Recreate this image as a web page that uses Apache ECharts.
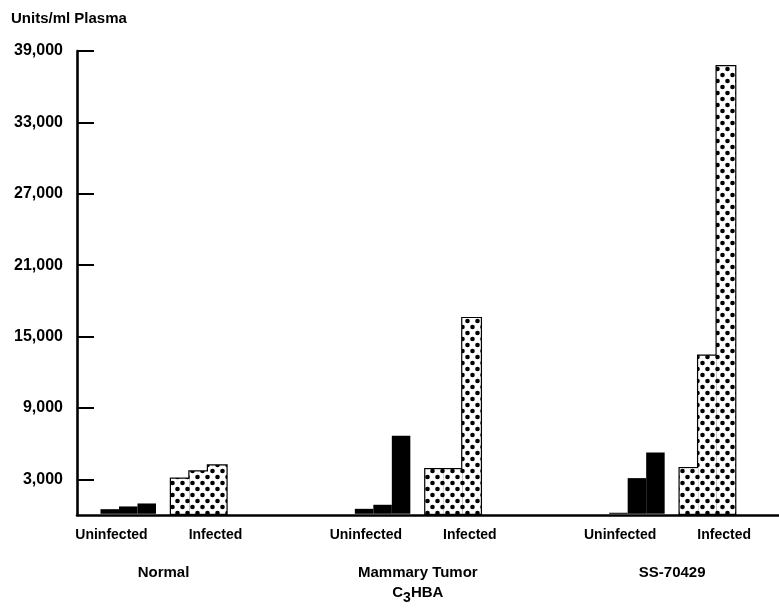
<!DOCTYPE html>
<html>
<head>
<meta charset="utf-8">
<script src="https://cdn.jsdelivr.net/npm/echarts@6/dist/echarts.min.js"></script>
<style>
html,body{margin:0;padding:0;background:#fff;}
#chart{width:779px;height:614px;}
</style>
</head>
<body>
<div id="chart"></div>
<script>
// ---- data ----
const groupNames = ['Normal', 'Mammary Tumor', 'SS-70429'];
const groupSubNames = ['', 'C3HBA', ''];
const conditionLabels = ['Uninfected', 'Infected'];
const uninfectedA = [590, 620, 290];
const uninfectedB = [820, 960, 3200];
const uninfectedC = [1070, 6760, 5360];
const infectedA = [3150, 3950, 4040];
const infectedB = [3760, 3950, 13490];
const infectedC = [4260, 16650, 37820];
const yTicks = [3000, 9000, 15000, 21000, 27000, 33000, 39000];
const yMax = 39000;

// ---- styles ----
const FONT = '"Liberation Sans", Arial, sans-serif';
function makeDots() {
  const c = document.createElement('canvas');
  c.width = 10; c.height = 12;
  const ctx = c.getContext('2d');
  ctx.fillStyle = '#fff'; ctx.fillRect(0, 0, 10, 12);
  ctx.fillStyle = '#000';
  [[2.5, 3], [7.5, 9]].forEach(([x, y]) => { ctx.beginPath(); ctx.arc(x, y, 2.3, 0, Math.PI * 2); ctx.fill(); });
  return c;
}
const dotFill = { image: makeDots(), repeat: 'repeat' };

const toPairs = arr => arr.map((v, i) => [i, v]);
const emptyPairs = groupNames.map((g, i) => [i, null]);

// bar geometry: visible pitch 18.5px, outline 2.4px
const PITCH = 18.5, EDGE = 2.4, GAP = 15;
const W = PITCH + EDGE;
const GAP_PCT = (-EDGE / W * 100) + '%';
const SPACER = GAP / (1 - EDGE / W);
const CLEAR = 'rgba(0,0,0,0)';

function seriesSet(axisIndex, outline) {
  const list = [];
  [uninfectedA, uninfectedB, uninfectedC].forEach(arr => list.push({
    type: 'bar', xAxisIndex: axisIndex, data: outline ? emptyPairs : toPairs(arr),
    barWidth: W, barGap: GAP_PCT, z: outline ? 1 : 2, silent: true,
    itemStyle: { color: '#000', borderColor: CLEAR, borderWidth: EDGE }
  }));
  list.push({ type: 'bar', xAxisIndex: axisIndex, data: emptyPairs, barWidth: SPACER, barGap: GAP_PCT, silent: true });
  [infectedA, infectedB, infectedC].forEach(arr => list.push({
    type: 'bar', xAxisIndex: axisIndex, data: toPairs(arr), barWidth: W, barGap: GAP_PCT,
    z: outline ? 1 : 2, silent: true,
    itemStyle: outline ? { color: '#000', borderWidth: 0 } : { color: dotFill, borderColor: CLEAR, borderWidth: EDGE }
  }));
  return list;
}

const xMin = -0.34, xMax = 2.42;
const chart = echarts.init(document.getElementById('chart'), null, { renderer: 'canvas' });
chart.setOption({
  animation: false,
  backgroundColor: '#fff',
  title: {
    text: 'Units/ml Plasma', left: 11, top: 11, padding: 0,
    textStyle: { fontFamily: FONT, fontSize: 15, fontWeight: 'bold', color: '#000' }
  },
  grid: { left: 77, right: 0, top: 51, bottom: 99, containLabel: false },
  xAxis: [
    {
      type: 'value', min: xMin, max: xMax, position: 'bottom',
      axisLine: { show: true, onZero: false, lineStyle: { color: '#000', width: 2.6 } },
      axisTick: { show: false }, splitLine: { show: false },
      axisLabel: {
        customValues: [0, 1, 2], margin: 12,
        formatter: () => '{u|' + conditionLabels[0] + '}{i|' + conditionLabels[1] + '}',
        rich: {
          u: { width: 90, align: 'right', padding: [0, 7, 0, 0], fontFamily: FONT, fontSize: 14, fontWeight: 'bold', color: '#000', lineHeight: 16 },
          i: { width: 90, align: 'left', padding: [0, 0, 0, 7], fontFamily: FONT, fontSize: 14, fontWeight: 'bold', color: '#000', lineHeight: 16 }
        }
      }
    },
    {
      type: 'value', min: xMin, max: xMax, position: 'bottom',
      axisLine: { show: false, onZero: false }, axisTick: { show: false }, splitLine: { show: false },
      axisLabel: {
        customValues: [0, 1, 2], margin: 50,
        formatter: (v) => {
          const i = Math.round(v);
          let s = '{g|' + groupNames[i] + '}';
          const sub = groupSubNames[i];
          if (sub) s += '\n{g|' + sub.slice(0, 1) + '}{s|' + sub.slice(1, 2) + '}{g|' + sub.slice(2) + '}';
          return s;
        },
        rich: {
          g: { fontFamily: FONT, fontSize: 15, fontWeight: 'bold', color: '#000', lineHeight: 20, verticalAlign: 'top' },
          s: { fontFamily: FONT, fontSize: 14, fontWeight: 'bold', color: '#000', lineHeight: 14, verticalAlign: 'bottom', padding: [12, 0, 0, 0] }
        }
      }
    }
  ],
  yAxis: {
    type: 'value', min: 0, max: yMax,
    axisLine: { show: true, onZero: false, lineStyle: { color: '#000', width: 2.6 } },
    axisTick: { show: true, inside: true, length: 17, customValues: yTicks, lineStyle: { color: '#000', width: 2 } },
    splitLine: { show: false },
    axisLabel: {
      customValues: yTicks, margin: 14,
      formatter: v => v.toLocaleString('en-US'),
      fontFamily: FONT, fontSize: 16, fontWeight: 'bold', color: '#000'
    }
  },
  series: seriesSet(1, true).concat(seriesSet(0, false))
});
</script>
</body>
</html>
